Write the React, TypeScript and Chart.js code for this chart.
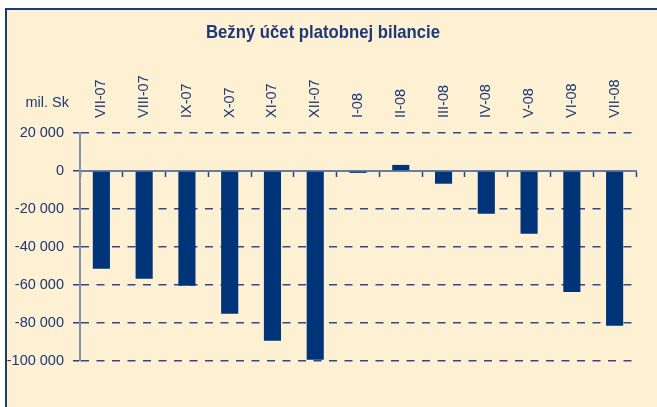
import React, { useEffect, useRef } from "react";
import { Chart, registerables } from "chart.js";

Chart.register(...registerables);

const TITLE = "Bežný účet platobnej bilancie";
const UNIT = "mil. Sk";
const categories = ["VII-07", "VIII-07", "IX-07", "X-07", "XI-07", "XII-07", "I-08", "II-08", "III-08", "IV-08", "V-08", "VI-08", "VII-08"];
const values = [-51400, -56700, -60400, -75100, -89300, -99300, -1000, 3200, -6700, -22500, -33000, -63700, -81400];
const yMin = -100000;
const yMax = 20000;
const yStep = 20000;

const NAVY = "#003479";
const TEXT = "#1B3978";
const CREAM = "#FEF0D2";
const FONT = '"Liberation Sans", Arial, sans-serif';
const LABEL_SIZE = 14.5;

function fmt(v: number): string {
  const s = Math.abs(v).toString().replace(/\B(?=(\d{3})+(?!\d))/g, " ");
  return (v < 0 ? "-" : "") + s;
}

const textPlugin = {
  id: "texts",
  afterDraw(chart: any) {
    const ctx = chart.ctx;
    const area = chart.chartArea;
    ctx.save();
    ctx.fillStyle = TEXT;
    ctx.textAlign = "center";
    ctx.textBaseline = "middle";
    ctx.save();
    ctx.translate(323, 33);
    ctx.scale(0.88, 1);
    ctx.font = `bold 19px ${FONT}`;
    ctx.fillText(TITLE, 0, 0);
    ctx.restore();
    ctx.font = `${LABEL_SIZE}px ${FONT}`;
    ctx.textAlign = "right";
    ctx.fillText(UNIT, area.left - 11, area.top - 30);
    ctx.restore();
  },
};

export default function App() {
  const ref = useRef<HTMLCanvasElement>(null);
  useEffect(() => {
    if (!ref.current) return;
    const chart = new Chart(ref.current, {
      type: "bar",
      data: {
        labels: categories,
        datasets: [
          {
            data: values,
            backgroundColor: NAVY,
            borderWidth: 0,
            barPercentage: 0.4,
            categoryPercentage: 1,
            xAxisID: "x",
            yAxisID: "y",
          },
        ],
      },
      options: {
        animation: false,
        responsive: false,
        devicePixelRatio: 1,
        layout: { padding: { top: 0, left: 0, right: 21, bottom: 46 } },
        plugins: { legend: { display: false }, tooltip: { enabled: false }, title: { display: false } },
        scales: {
          x: {
            type: "category",
            position: { y: 0 } as any,
            offset: true,
            grid: {
              offset: true,
              drawOnChartArea: false,
              drawTicks: true,
              tickLength: 5,
              tickColor: "#24448A",
              tickWidth: 1.5,
            },
            border: { display: true, color: "#687BA0", width: 2 },
            ticks: { display: false },
          },
          xTop: {
            type: "category",
            labels: categories,
            position: "top",
            offset: true,
            grid: { display: false, drawTicks: false },
            border: { display: false },
            ticks: {
              autoSkip: false,
              minRotation: 90,
              maxRotation: 90,
              padding: 15,
              labelOffset: LABEL_SIZE * 1.2,
              color: TEXT,
              font: { family: FONT, size: LABEL_SIZE },
            },
            afterFit: (s: any) => {
              s.height = 133;
            },
          },
          y: {
            position: "left",
            min: yMin,
            max: yMax,
            ticks: {
              stepSize: yStep,
              padding: 9,
              color: TEXT,
              font: { family: FONT, size: LABEL_SIZE },
              callback: (v: any) => fmt(Number(v)),
            },
            grid: {
              color: (c: any) => (c.tick && c.tick.value === 0 ? "rgba(0,0,0,0)" : "#2D4A8A"),
              lineWidth: 1.5,
              drawTicks: true,
              tickLength: 7,
              tickColor: "#24448A",
              tickWidth: 1.5,
            },
            border: { display: true, color: "#8593AE", width: 2, dash: [8, 7.5] },
            afterFit: (s: any) => {
              s.width = 80;
            },
          },
        },
      },
      plugins: [textPlugin],
    });
    return () => chart.destroy();
  }, []);

  return (
    <div style={{ position: "fixed", left: 0, top: 0, width: 657, height: 407, background: "#fff", overflow: "hidden" }}>
      <div
        style={{
          position: "absolute",
          left: 5,
          top: 8,
          right: 0,
          bottom: 0,
          background: CREAM,
          borderLeft: "2px solid #1F3A78",
          borderTop: "2px solid #1F3A78",
        }}
      />
      <canvas ref={ref} width={657} height={407} style={{ position: "absolute", left: 0, top: 0 }} />
    </div>
  );
}
